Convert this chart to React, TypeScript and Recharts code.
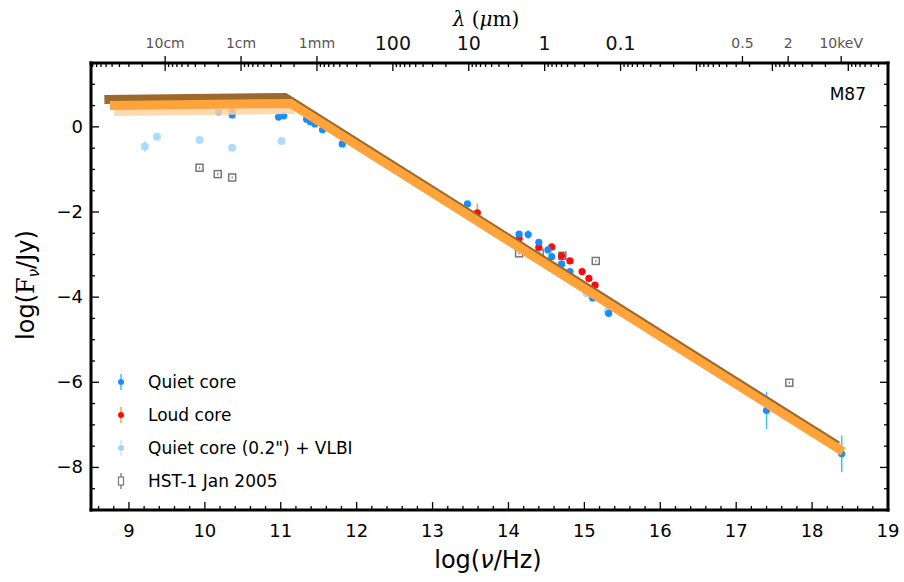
import React from 'react';
import { ComposedChart, Scatter, XAxis, YAxis, ErrorBar, Legend } from 'recharts';

// log(nu/Hz), log(F/Jy), err
const quietCore = [
  { x: 10.18, y: 0.35, err: 0 },
  { x: 10.36, y: 0.28, err: 0 },
  { x: 10.97, y: 0.23, err: 0 },
  { x: 11.04, y: 0.26, err: 0 },
  { x: 11.34, y: 0.18, err: 0 },
  { x: 11.39, y: 0.12, err: 0 },
  { x: 11.45, y: 0.07, err: 0 },
  { x: 11.55, y: -0.07, err: 0 },
  { x: 11.81, y: -0.4, err: 0 },
  { x: 13.46, y: -1.81, err: 0 },
  { x: 14.14, y: -2.52, err: 0.05 },
  { x: 14.26, y: -2.53, err: 0.1 },
  { x: 14.4, y: -2.71, err: 0.05 },
  { x: 14.52, y: -2.89, err: 0 },
  { x: 14.57, y: -3.05, err: 0 },
  { x: 14.7, y: -3.22, err: 0 },
  { x: 14.81, y: -3.4, err: 0 },
  { x: 15.11, y: -4.02, err: 0 },
  { x: 15.32, y: -4.38, err: 0.05 },
  { x: 17.4, y: -6.66, err: 0.44 },
  { x: 18.39, y: -7.68, err: 0.43 },
];

const loudCore = [
  { x: 10.36, y: 0.36, err: 0 },
  { x: 13.59, y: -2.02, err: 0.22 },
  { x: 14.14, y: -2.62, err: 0 },
  { x: 14.4, y: -2.83, err: 0 },
  { x: 14.57, y: -2.82, err: 0 },
  { x: 14.7, y: -3.03, err: 0 },
  { x: 14.81, y: -3.15, err: 0 },
  { x: 14.97, y: -3.4, err: 0 },
  { x: 15.06, y: -3.56, err: 0 },
  { x: 15.14, y: -3.72, err: 0 },
];

const quietCoreVlbi = [
  { x: 9.21, y: -0.46, err: 0.13 },
  { x: 9.37, y: -0.23, err: 0 },
  { x: 9.93, y: -0.31, err: 0 },
  { x: 10.36, y: -0.49, err: 0 },
  { x: 11.01, y: -0.33, err: 0 },
  { x: 15.03, y: -3.91, err: 0 },
  { x: 15.1, y: -3.98, err: 0 },
  { x: 15.31, y: -4.33, err: 0 },
];

const hst1 = [
  { x: 9.93, y: -0.96, err: 0.03 },
  { x: 10.17, y: -1.11, err: 0.03 },
  { x: 10.36, y: -1.19, err: 0.03 },
  { x: 14.14, y: -2.97, err: 0.03 },
  { x: 14.41, y: -2.96, err: 0.03 },
  { x: 14.71, y: -3.03, err: 0.03 },
  { x: 15.15, y: -3.15, err: 0.03 },
  { x: 17.7, y: -6.01, err: 0.03 },
];

// broken power law model
const powerLaw = [
  { x: 8.75, y: 0.5 },
  { x: 11.13, y: 0.55 },
  { x: 18.41, y: -7.63 },
];

const legendItems = [
  { label: 'Quiet core', kind: 'dot', fill: '#1a8cff', bar: '#3ec1f5' },
  { label: 'Loud core', kind: 'dot', fill: '#ff0a0a', bar: '#ff9f2e' },
  { label: 'Quiet core (0.2") + VLBI', kind: 'dot', fill: '#9fd6fb', bar: '#c5e8fd' },
  { label: 'HST-1 Jan 2005', kind: 'square', fill: 'none', bar: '#888' },
];

// top axis: wavelength decades (log10 lambda/um) and photon energies
const LOG_C = 14.4768; // log10(c) in um/s
const LOG_KEV = 17.3834; // log10(1 keV / h) in Hz
const lambdaBig: Record<string, string> = { '2': '100', '1': '10', '0': '1', '-1': '0.1' };
const radioLabels: Record<string, string> = { '5': '10cm', '4': '1cm', '3': '1mm' };
const keVLabels = [
  { e: 0.5, label: '0.5' },
  { e: 2, label: '2' },
  { e: 10, label: '10keV' },
];

const xDomain = [8.5, 19];
const yDomain = [-9, 1.5];
const FONT = '"DejaVu Sans", Verdana, sans-serif';

type TopTick = { v: number; len: number; up?: boolean; label?: string; big?: boolean };
const topTicks: TopTick[] = [];
for (let p = -5; p <= 6; p++) {
  const v = LOG_C - p;
  if (v >= xDomain[0] && v <= xDomain[1]) {
    const big = lambdaBig[String(p)];
    const radio = radioLabels[String(p)];
    topTicks.push({ v, len: 8, up: !!radio, label: big || radio, big: !!big });
  }
  for (let k = 2; k <= 9; k++) {
    const m = LOG_C - p - Math.log10(k);
    if (m >= xDomain[0] && m <= xDomain[1]) topTicks.push({ v: m, len: 4 });
  }
}
keVLabels.forEach((k) => topTicks.push({ v: LOG_KEV + Math.log10(k.e), len: 0, up: true, label: k.label }));

const xTicks: number[] = [];
for (let i = 43; i <= 95; i++) xTicks.push(i / 5);
const yTicks: number[] = [];
for (let i = -18; i <= 3; i++) yTicks.push(i / 2);

const isInt = (v: number) => Math.abs(v - Math.round(v)) < 1e-6;
const minus = (v: number) => (v < 0 ? '\u2212' + Math.abs(v) : String(v));

const BottomTick = (props: any) => {
  const { x, y, payload } = props;
  const major = isInt(payload.value);
  return (
    <g>
      <line x1={x} y1={y} x2={x} y2={y - (major ? 8 : 4)} stroke="#000" strokeWidth={1.3} />
      {major && (
        <text x={x} y={y + 27} textAnchor="middle" fontSize={18} fontFamily={FONT} fill="#000">
          {Math.round(payload.value)}
        </text>
      )}
    </g>
  );
};

const TopTickMark = (props: any) => {
  const { x, y, payload } = props;
  const t = topTicks.find((tt) => Math.abs(tt.v - payload.value) < 1e-6);
  if (!t) return <g />;
  return (
    <g>
      {t.len > 0 && <line x1={x} y1={y} x2={x} y2={y + t.len} stroke="#000" strokeWidth={1.3} />}
      {t.up && <line x1={x} y1={y} x2={x} y2={y - 7} stroke="#000" strokeWidth={1.3} />}
      {t.label && (
        <text
          x={x}
          y={t.big ? y - 13 : y - 15}
          textAnchor="middle"
          fontSize={t.big ? 19 : 14}
          fontFamily={FONT}
          fill={t.big ? '#111' : '#555'}
        >
          {t.label}
        </text>
      )}
    </g>
  );
};

const LeftTick = (props: any) => {
  const { x, y, payload } = props;
  const v = payload.value;
  const major = isInt(v) && Math.round(v) % 2 === 0;
  return (
    <g>
      <line x1={x} y1={y} x2={x + (major ? 8 : 4)} y2={y} stroke="#000" strokeWidth={1.3} />
      {major && (
        <text x={x - 8} y={y + 6} textAnchor="end" fontSize={18} fontFamily={FONT} fill="#000">
          {minus(v)}
        </text>
      )}
    </g>
  );
};

const RightTick = (props: any) => {
  const { x, y, payload } = props;
  const v = payload.value;
  const major = isInt(v) && Math.round(v) % 2 === 0;
  return <line x1={x} y1={y} x2={x - (major ? 8 : 4)} y2={y} stroke="#000" strokeWidth={1.3} />;
};

const dot = (fill: string, r: number, opacity = 1) => (p: any) =>
  <circle cx={p.cx} cy={p.cy} r={r} fill={fill} fillOpacity={opacity} />;
const square = (p: any) => (
  <rect x={p.cx - 3.5} y={p.cy - 3.5} width={7} height={7} fill="none" stroke="#777" strokeWidth={1.5} />
);
const noShape = () => <g />;

const LegendBox = () => (
  <div style={{ fontFamily: FONT, fontSize: 17, color: '#000' }}>
    {legendItems.map((it) => (
      <div key={it.label} style={{ display: 'flex', alignItems: 'center', height: 33 }}>
        <svg width={30} height={20} style={{ marginRight: 12 }}>
          <line x1={15} y1={2} x2={15} y2={18} stroke={it.bar} strokeWidth={1.5} />
          {it.kind === 'dot' ? (
            <circle cx={15} cy={10} r={3} fill={it.fill} />
          ) : (
            <rect x={12.5} y={6} width={5} height={8} fill="#fff" stroke="#777" strokeWidth={1.2} />
          )}
        </svg>
        <span>{it.label}</span>
      </div>
    ))}
  </div>
);

const axisLine = { stroke: '#000', strokeWidth: 3, strokeLinecap: 'square' as const };

export default function App() {
  return (
    <div style={{ position: 'relative', width: 896, height: 566, fontFamily: FONT }}>
      <style>{`
        html { overflow: hidden; }
        body { margin-right: 0; }
        .recharts-wrapper, .recharts-surface { overflow: visible !important; }
        .pl-shadow { transform: translate(-2.8px, -3px); }
        .pl-glow { transform: translate(2px, 3px); }
      `}</style>
      <ComposedChart width={896} height={566} margin={{ top: 25, right: 15, bottom: 24, left: 23 }}>
        <XAxis
          xAxisId={0}
          type="number"
          dataKey="x"
          domain={xDomain}
          allowDataOverflow
          ticks={xTicks}
          interval={0}
          orientation="bottom"
          height={40}
          axisLine={axisLine}
          tickLine={false}
          tickSize={0}
          tickMargin={0}
          tick={<BottomTick />}
        />
        <XAxis
          xAxisId="top"
          type="number"
          dataKey="x"
          domain={xDomain}
          allowDataOverflow
          ticks={topTicks.map((t) => t.v)}
          interval={0}
          orientation="top"
          height={30}
          axisLine={axisLine}
          tickLine={false}
          tickSize={0}
          tickMargin={0}
          tick={<TopTickMark />}
        />
        <YAxis
          yAxisId={0}
          type="number"
          dataKey="y"
          domain={yDomain}
          allowDataOverflow
          ticks={yTicks}
          interval={0}
          width={60}
          axisLine={axisLine}
          tickLine={false}
          tickSize={0}
          tickMargin={0}
          tick={<LeftTick />}
        />
        <YAxis
          yAxisId="r"
          orientation="right"
          type="number"
          dataKey="y"
          domain={yDomain}
          allowDataOverflow
          ticks={yTicks}
          interval={0}
          width={1}
          axisLine={axisLine}
          tickLine={false}
          tickSize={0}
          tickMargin={0}
          tick={<RightTick />}
        />
        <Legend
          layout="vertical"
          align="center"
          verticalAlign="middle"
          content={<LegendBox />}
          wrapperStyle={{ left: 98, top: 357, width: 320, height: 135 }}
        />
        <Scatter name="Quiet core (0.2&quot;) + VLBI" data={quietCoreVlbi} shape={dot('#9fd6fb', 4, 0.85)} isAnimationActive={false}>
          <ErrorBar dataKey="err" direction="y" width={0} stroke="#bfe5fd" strokeWidth={1.5} />
        </Scatter>
        <Scatter name="HST-1 Jan 2005" data={hst1} shape={square} isAnimationActive={false}>
          <ErrorBar dataKey="err" direction="y" width={0} stroke="#888" strokeWidth={1.2} />
        </Scatter>
        <Scatter name="Loud core" data={loudCore} shape={dot('#ff0a0a', 3.6)} isAnimationActive={false}>
          <ErrorBar dataKey="err" direction="y" width={0} stroke="#ff9f2e" strokeWidth={1.5} />
        </Scatter>
        <Scatter name="Quiet core" data={quietCore} shape={dot('#1a8cff', 3.6)} isAnimationActive={false}>
          <ErrorBar dataKey="err" direction="y" width={0} stroke="#3ec1f5" strokeWidth={1.5} />
        </Scatter>
        <Scatter
          className="pl-glow"
          data={powerLaw.slice(0, 2)}
          line={{ stroke: '#ffd2a1', strokeWidth: 9, strokeOpacity: 0.85 }}
          shape={noShape}
          isAnimationActive={false}
        />
        <Scatter
          className="pl-shadow"
          data={powerLaw}
          line={{ stroke: '#9c6a2b', strokeWidth: 9 }}
          shape={noShape}
          isAnimationActive={false}
        />
        <Scatter data={powerLaw} line={{ stroke: '#ffa33a', strokeWidth: 9 }} shape={noShape} isAnimationActive={false} />
      </ComposedChart>

      <div style={{ position: 'absolute', left: 805, top: 76, width: 53, textAlign: 'right', fontSize: 17 }}>M87</div>
      <div
        style={{
          position: 'absolute',
          left: 428,
          top: -1,
          width: 100,
          textAlign: 'center',
          fontSize: 20,
          fontFamily: '"DejaVu Serif", serif',
        }}
      >
        <i>λ</i> (<i>μ</i>m)
      </div>
      <div style={{ position: 'absolute', left: 380, top: 538, width: 200, textAlign: 'center', fontSize: 24, lineHeight: '28px' }}>
        log(<i>ν</i>/Hz)
      </div>
      <div
        style={{
          position: 'absolute',
          left: 22,
          top: 277,
          width: 200,
          textAlign: 'center',
          fontSize: 24,
          lineHeight: '28px',
          transform: 'translate(-50%, -50%) rotate(-90deg)',
          whiteSpace: 'nowrap',
        }}
      >
        log(<span style={{ fontFamily: '"DejaVu Serif", serif' }}>F</span>
        <sub style={{ fontSize: 15 }}>
          <i>ν</i>
        </sub>
        /Jy)
      </div>
    </div>
  );
}
